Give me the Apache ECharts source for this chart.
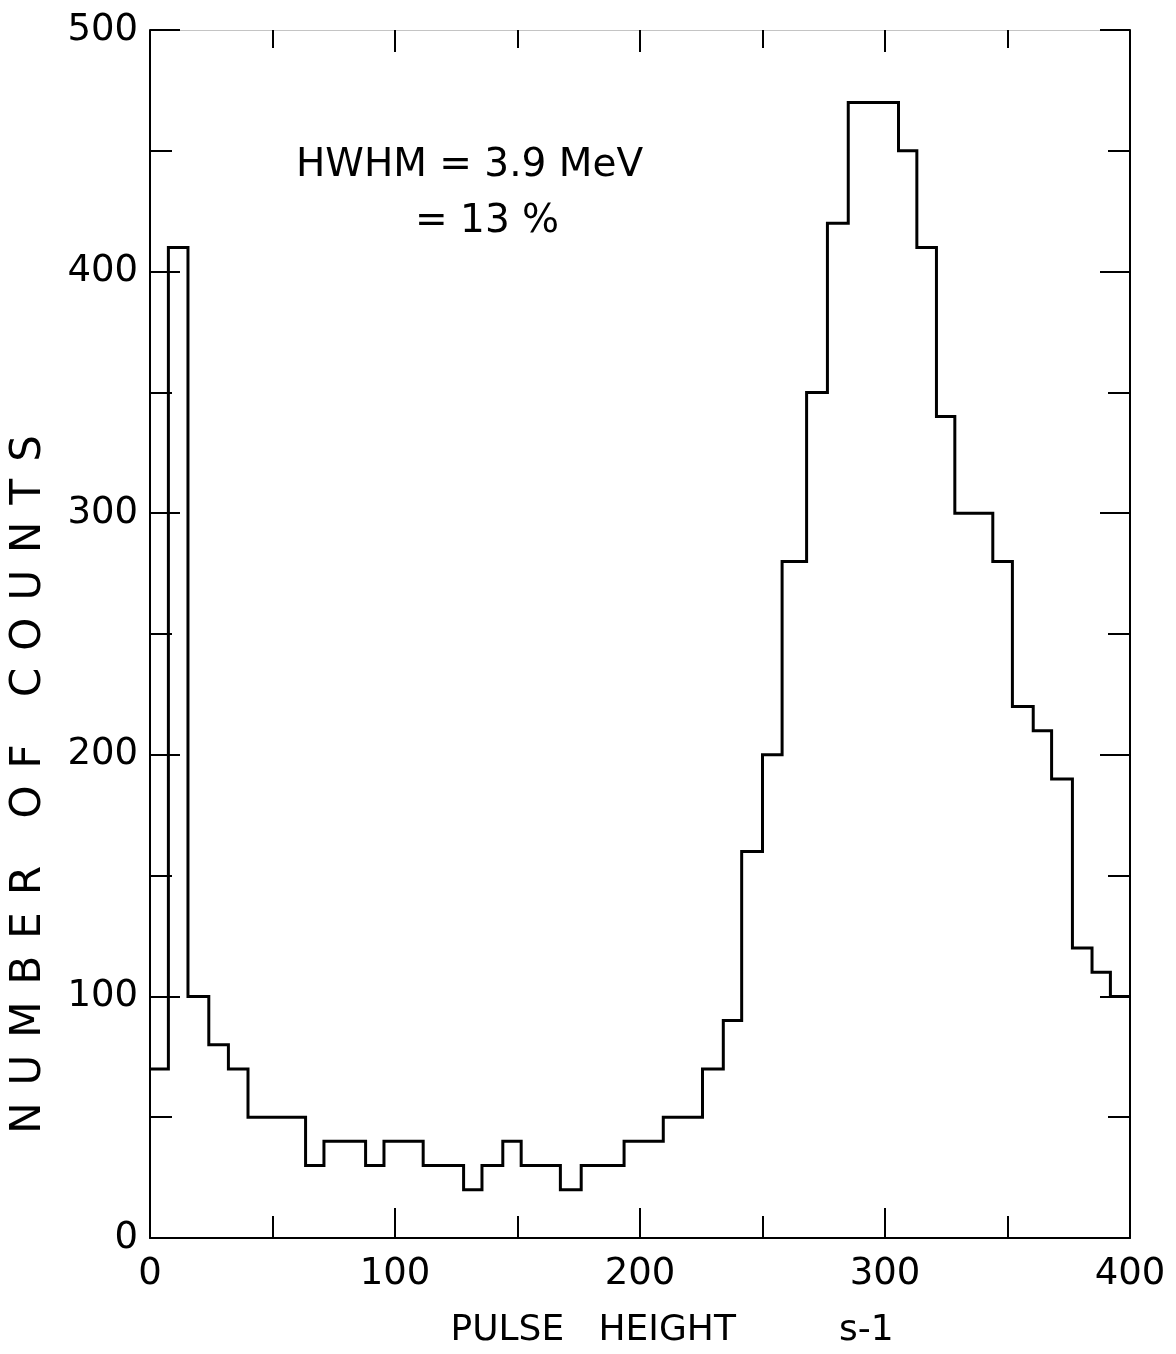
<!DOCTYPE html>
<html>
<head>
<meta charset="utf-8">
<script src="https://cdn.jsdelivr.net/npm/echarts@6/dist/echarts.min.js"></script>
<style>
html,body{margin:0;padding:0;background:#fff;}
#chart{width:1176px;height:1354px;}
</style>
</head>
<body>
<div id="chart"></div>
<script>
// Histogram bin edges (pulse height units)
const binEdges = [0, 7.5, 15.5, 24, 32, 40, 63.5, 71, 88, 95.5, 111.5, 128, 135.5, 144, 151.5, 167.5, 176, 193.5, 209.5, 225.5, 234, 241.5, 250, 258, 268, 276.5, 285, 305.5, 313, 321, 328.5, 344, 352, 360.5, 368, 376.5, 384.5, 392, 400];
// Counts in each bin
const counts = [70, 410, 100, 80, 70, 50, 30, 40, 30, 40, 30, 20, 30, 40, 30, 20, 30, 40, 50, 70, 90, 160, 200, 280, 350, 420, 470, 450, 410, 340, 300, 280, 220, 210, 190, 120, 110, 100];
const xTicks = [0, 100, 200, 300, 400];
const yTicks = [0, 100, 200, 300, 400, 500];
const xTitle = 'PULSE   HEIGHT         s-1';
const yTitle = 'NUMBER OF COUNTS';
const noteLine1 = 'HWHM = 3.9 MeV';
const noteLine2 = '= 13 %';

// letter spacing for the hand-lettered rotated title only
const spacingMap = {};
spacingMap[yTitle] = '17px';
const _fill = CanvasRenderingContext2D.prototype.fillText;
CanvasRenderingContext2D.prototype.fillText = function (t, x, y, w) {
  const args = (w === undefined) ? [t, x, y] : [t, x, y, w];
  if (Object.prototype.hasOwnProperty.call(spacingMap, t) && 'letterSpacing' in this) {
    const f = this.font;
    this.letterSpacing = spacingMap[t];
    this.font = '10px serif'; this.font = f;
    _fill.apply(this, args);
    this.letterSpacing = '0px';
    this.font = '10px serif'; this.font = f;
  } else {
    _fill.apply(this, args);
  }
};

// step outline built from edges + counts
const outline = [[binEdges[0], counts[0]]];
for (let i = 0; i < counts.length; i++) {
  outline.push([binEdges[i], counts[i]]);
  outline.push([binEdges[i + 1], counts[i]]);
}

const FONT = 'DejaVu Sans';
const chart = echarts.init(document.getElementById('chart'), null, {renderer: 'canvas'});

function axisBase(extra) {
  return Object.assign({
    type: 'value',
    interval: 100,
    splitLine: {show: false},
    axisLine: {show: true, onZero: false, lineStyle: {color: '#000', width: 2}},
    axisTick: {show: true, inside: true, length: 30, lineStyle: {color: '#000', width: 2}},
    minorTick: {show: true, splitNumber: 2, length: 22, lineStyle: {color: '#000', width: 2}},
    minorSplitLine: {show: false}
  }, extra);
}

chart.setOption({
  animation: false,
  backgroundColor: '#fff',
  grid: {left: 150, right: 46, top: 30, bottom: 116, containLabel: false},
  xAxis: [
    axisBase({
      position: 'bottom', min: xTicks[0], max: xTicks[xTicks.length - 1],
      axisLabel: {show: true, margin: 18, color: '#000', fontFamily: FONT, fontSize: 37}
    }),
    axisBase({
      position: 'top', min: xTicks[0], max: xTicks[xTicks.length - 1],
      axisLine: {show: true, onZero: false, lineStyle: {color: '#c4c4c4', width: 1}},
      axisTick: {show: true, inside: true, length: 22, lineStyle: {color: '#000', width: 2}},
      minorTick: {show: true, splitNumber: 2, length: 18, lineStyle: {color: '#000', width: 2}},
      axisLabel: {show: false}
    })
  ],
  yAxis: [
    axisBase({
      position: 'left', min: yTicks[0], max: yTicks[yTicks.length - 1],
      axisLabel: {show: true, margin: 12, color: '#000', fontFamily: FONT, fontSize: 37}
    }),
    axisBase({
      position: 'right', min: yTicks[0], max: yTicks[yTicks.length - 1],
      axisLabel: {show: false}
    })
  ],
  graphic: [
    {type: 'text', left: 296, top: 146, style: {text: noteLine1, fill: '#000', font: '39px "DejaVu Sans"'}},
    {type: 'text', left: 415, top: 202, style: {text: noteLine2, fill: '#000', font: '39px "DejaVu Sans"'}},
    {type: 'text', x: 672, y: 1331, style: {text: xTitle, fill: '#000', font: '36px "DejaVu Sans"', textAlign: 'center', textVerticalAlign: 'middle'}},
    {type: 'text', x: 29, y: 776, rotation: Math.PI / 2, style: {text: yTitle, fill: '#000', font: '42px "DejaVu Sans"', textAlign: 'center', textVerticalAlign: 'middle'}}
  ],
  series: [{
    type: 'line',
    xAxisIndex: 0, yAxisIndex: 0,
    data: outline,
    showSymbol: false,
    symbol: 'none',
    lineStyle: {color: '#000', width: 3, join: 'miter'},
    silent: true,
    z: 3
  }]
});
</script>
</body>
</html>
